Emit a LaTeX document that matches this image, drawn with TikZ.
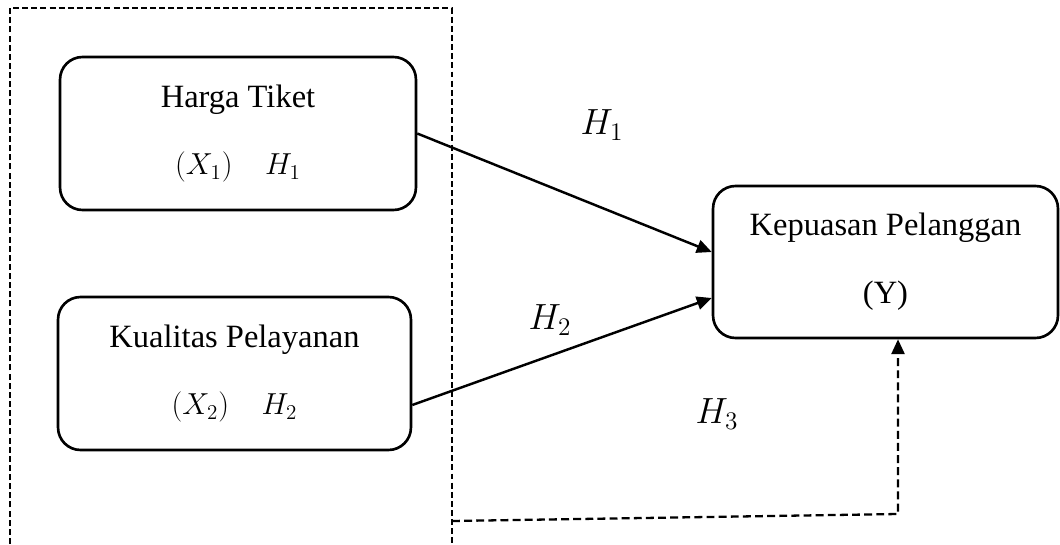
\documentclass[tikz,border=0pt]{standalone}
\usepackage{amsmath,amsfonts,amssymb}
\usepackage{fontspec}
\setmainfont{Liberation Serif}
\usepackage{xcolor}
\usepackage{tikz}
\usetikzlibrary{arrows.meta}

\tikzset{
    varbox/.style={draw, line width=1.5pt, rounded corners=0.45cm, align=center,
        font=\fontsize{18.5}{38.5}\selectfont},
    hyplabel/.style={font=\fontsize{21}{24}\selectfont},
    frame/.style={line width=1.3pt, dash pattern=on 3.4pt off 1.8pt},
    path arrow/.style={line width=1.4pt, -{Triangle[length=8.5pt,width=7.5pt]}},
    h3 arrow/.style={line width=1.3pt, dash pattern=on 4.5pt off 2.4pt,
        -{Triangle[length=8.5pt,width=7.5pt]}}
}

\begin{document}
\begin{tikzpicture}[x=0.02cm, y=-0.02cm]
    \useasboundingbox (0,0) rectangle (1060,544);

    % Dashed frame round the independent variables
    \draw[frame] (10,544) -- (10,8) -- (452,8) -- (452,544);

    % Variable boxes
    \node[varbox, minimum width=7.12cm, minimum height=3.06cm] (harga) at (238,133.5)
        {Harga Tiket\\$(X_1)\quad H_1$};
    \node[varbox, minimum width=7.06cm, minimum height=3.06cm] (kualitas) at (234.5,373.5)
        {Kualitas Pelayanan\\$(X_2)\quad H_2$};
    \node[varbox, minimum width=6.9cm, minimum height=3.04cm] (kepuasan) at (885.5,262)
        {Kepuasan Pelanggan\\(Y)};

    % Hypothesis labels
    \node[hyplabel] (h1) at (602,125) {$H_1$};
    \node[hyplabel] (h2) at (550,320) {$H_2$};
    \node[hyplabel] (h3) at (717,414) {$H_3$};

    % Paths
    \draw[path arrow] (harga.east) -- ([yshift=0.2cm]kepuasan.west);
    \draw[path arrow] ([yshift=-0.63cm]kualitas.east) -- ([yshift=-0.72cm]kepuasan.west);

    % Simultaneous path
    \coordinate (h3start) at (452,521);
    \coordinate (h3corner) at (898,514);
    \draw[h3 arrow] (h3start) -- (h3corner) -- (h3corner |- kepuasan.south);
\end{tikzpicture}
\end{document}
